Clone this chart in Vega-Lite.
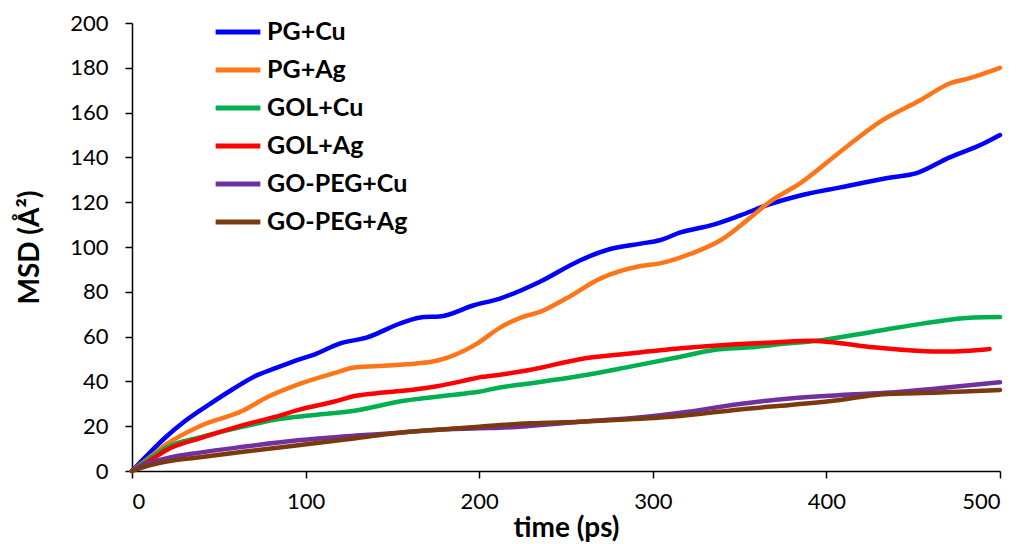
{
  "$schema": "https://vega.github.io/schema/vega-lite/v6.json",
  "width": 868,
  "height": 448,
  "autosize": {"type": "none"},
  "padding": {"left": 132, "top": 23, "right": 23, "bottom": 73},
  "background": "white",
  "config": {
    "view": {"stroke": null},
    "font": "Lato"
  },
  "datasets": {
    "msd": [
      {"s":"PG+Cu","t":0,"v":0},{"s":"PG+Cu","t":10,"v":8},{"s":"PG+Cu","t":20,"v":15.5},{"s":"PG+Cu","t":30,"v":22},{"s":"PG+Cu","t":45,"v":30},{"s":"PG+Cu","t":58,"v":36.5},{"s":"PG+Cu","t":70,"v":42},{"s":"PG+Cu","t":83,"v":46},{"s":"PG+Cu","t":95,"v":49.5},{"s":"PG+Cu","t":105,"v":52},{"s":"PG+Cu","t":120,"v":57},{"s":"PG+Cu","t":135,"v":59.5},{"s":"PG+Cu","t":155,"v":66},{"s":"PG+Cu","t":168,"v":68.8},{"s":"PG+Cu","t":177,"v":69},{"s":"PG+Cu","t":197,"v":74},{"s":"PG+Cu","t":212,"v":77},{"s":"PG+Cu","t":235,"v":84.5},{"s":"PG+Cu","t":258,"v":94},{"s":"PG+Cu","t":275,"v":99},{"s":"PG+Cu","t":293,"v":101.5},{"s":"PG+Cu","t":304,"v":103},{"s":"PG+Cu","t":316,"v":106.5},{"s":"PG+Cu","t":335,"v":110},{"s":"PG+Cu","t":350,"v":114},{"s":"PG+Cu","t":367,"v":119},{"s":"PG+Cu","t":385,"v":123},{"s":"PG+Cu","t":408,"v":126.6},{"s":"PG+Cu","t":437,"v":131},{"s":"PG+Cu","t":452,"v":133},{"s":"PG+Cu","t":471,"v":140},{"s":"PG+Cu","t":490,"v":146},{"s":"PG+Cu","t":500,"v":150},
      {"s":"PG+Ag","t":0,"v":0},{"s":"PG+Ag","t":10,"v":6},{"s":"PG+Ag","t":20,"v":12},{"s":"PG+Ag","t":39,"v":20},{"s":"PG+Ag","t":64,"v":27},{"s":"PG+Ag","t":78,"v":33},{"s":"PG+Ag","t":97,"v":39},{"s":"PG+Ag","t":116,"v":43.6},{"s":"PG+Ag","t":129,"v":46.3},{"s":"PG+Ag","t":145,"v":47},{"s":"PG+Ag","t":164,"v":48},{"s":"PG+Ag","t":174,"v":49},{"s":"PG+Ag","t":183,"v":51},{"s":"PG+Ag","t":199,"v":57},{"s":"PG+Ag","t":212,"v":64},{"s":"PG+Ag","t":224,"v":68.5},{"s":"PG+Ag","t":235,"v":71},{"s":"PG+Ag","t":250,"v":77},{"s":"PG+Ag","t":270,"v":86},{"s":"PG+Ag","t":293,"v":91.5},{"s":"PG+Ag","t":304,"v":92.7},{"s":"PG+Ag","t":322,"v":97},{"s":"PG+Ag","t":339,"v":103},{"s":"PG+Ag","t":356,"v":113},{"s":"PG+Ag","t":367,"v":120},{"s":"PG+Ag","t":385,"v":128.5},{"s":"PG+Ag","t":408,"v":142.5},{"s":"PG+Ag","t":431,"v":156},{"s":"PG+Ag","t":454,"v":165.5},{"s":"PG+Ag","t":471,"v":173},{"s":"PG+Ag","t":483,"v":175.5},{"s":"PG+Ag","t":500,"v":180},
      {"s":"GOL+Cu","t":0,"v":0},{"s":"GOL+Cu","t":10,"v":5.5},{"s":"GOL+Cu","t":20,"v":10.5},{"s":"GOL+Cu","t":39,"v":15},{"s":"GOL+Cu","t":64,"v":19.8},{"s":"GOL+Cu","t":83,"v":23},{"s":"GOL+Cu","t":105,"v":25},{"s":"GOL+Cu","t":129,"v":27},{"s":"GOL+Cu","t":154,"v":31},{"s":"GOL+Cu","t":174,"v":33},{"s":"GOL+Cu","t":193,"v":34.7},{"s":"GOL+Cu","t":200,"v":35.4},{"s":"GOL+Cu","t":212,"v":37.3},{"s":"GOL+Cu","t":229,"v":39.1},{"s":"GOL+Cu","t":258,"v":42.4},{"s":"GOL+Cu","t":287,"v":46.6},{"s":"GOL+Cu","t":316,"v":51},{"s":"GOL+Cu","t":335,"v":54},{"s":"GOL+Cu","t":356,"v":55.2},{"s":"GOL+Cu","t":369,"v":56.3},{"s":"GOL+Cu","t":398,"v":58.5},{"s":"GOL+Cu","t":427,"v":62.2},{"s":"GOL+Cu","t":456,"v":65.9},{"s":"GOL+Cu","t":485,"v":68.5},{"s":"GOL+Cu","t":500,"v":68.7},
      {"s":"GOL+Ag","t":0,"v":0},{"s":"GOL+Ag","t":10,"v":4.5},{"s":"GOL+Ag","t":20,"v":9.4},{"s":"GOL+Ag","t":39,"v":14.6},{"s":"GOL+Ag","t":64,"v":20.5},{"s":"GOL+Ag","t":83,"v":24.3},{"s":"GOL+Ag","t":97,"v":27.5},{"s":"GOL+Ag","t":116,"v":30.9},{"s":"GOL+Ag","t":129,"v":33.6},{"s":"GOL+Ag","t":145,"v":35},{"s":"GOL+Ag","t":164,"v":36.5},{"s":"GOL+Ag","t":174,"v":37.6},{"s":"GOL+Ag","t":193,"v":40.6},{"s":"GOL+Ag","t":200,"v":41.8},{"s":"GOL+Ag","t":212,"v":43},{"s":"GOL+Ag","t":229,"v":45.1},{"s":"GOL+Ag","t":258,"v":49.9},{"s":"GOL+Ag","t":287,"v":52.5},{"s":"GOL+Ag","t":316,"v":54.8},{"s":"GOL+Ag","t":350,"v":56.7},{"s":"GOL+Ag","t":369,"v":57.4},{"s":"GOL+Ag","t":392,"v":58.2},{"s":"GOL+Ag","t":408,"v":57},{"s":"GOL+Ag","t":427,"v":55.2},{"s":"GOL+Ag","t":452,"v":53.7},{"s":"GOL+Ag","t":469,"v":53.3},{"s":"GOL+Ag","t":494,"v":54.5},
      {"s":"GO-PEG+Cu","t":0,"v":0},{"s":"GO-PEG+Cu","t":10,"v":3.5},{"s":"GO-PEG+Cu","t":20,"v":5.7},{"s":"GO-PEG+Cu","t":39,"v":8.2},{"s":"GO-PEG+Cu","t":64,"v":10.8},{"s":"GO-PEG+Cu","t":97,"v":13.8},{"s":"GO-PEG+Cu","t":129,"v":15.8},{"s":"GO-PEG+Cu","t":154,"v":17.1},{"s":"GO-PEG+Cu","t":174,"v":18.3},{"s":"GO-PEG+Cu","t":200,"v":19.1},{"s":"GO-PEG+Cu","t":212,"v":19.3},{"s":"GO-PEG+Cu","t":258,"v":22},{"s":"GO-PEG+Cu","t":287,"v":23.5},{"s":"GO-PEG+Cu","t":316,"v":26},{"s":"GO-PEG+Cu","t":350,"v":29.9},{"s":"GO-PEG+Cu","t":379,"v":32.4},{"s":"GO-PEG+Cu","t":408,"v":33.9},{"s":"GO-PEG+Cu","t":437,"v":35},{"s":"GO-PEG+Cu","t":465,"v":36.9},{"s":"GO-PEG+Cu","t":500,"v":39.6},
      {"s":"GO-PEG+Ag","t":0,"v":0},{"s":"GO-PEG+Ag","t":10,"v":2.5},{"s":"GO-PEG+Ag","t":20,"v":4.2},{"s":"GO-PEG+Ag","t":39,"v":6.1},{"s":"GO-PEG+Ag","t":64,"v":8.6},{"s":"GO-PEG+Ag","t":97,"v":11.6},{"s":"GO-PEG+Ag","t":129,"v":14.6},{"s":"GO-PEG+Ag","t":154,"v":17.1},{"s":"GO-PEG+Ag","t":174,"v":18.3},{"s":"GO-PEG+Ag","t":200,"v":19.8},{"s":"GO-PEG+Ag","t":229,"v":21.3},{"s":"GO-PEG+Ag","t":258,"v":22},{"s":"GO-PEG+Ag","t":287,"v":23.1},{"s":"GO-PEG+Ag","t":316,"v":24.6},{"s":"GO-PEG+Ag","t":350,"v":27.5},{"s":"GO-PEG+Ag","t":379,"v":29.5},{"s":"GO-PEG+Ag","t":408,"v":31.7},{"s":"GO-PEG+Ag","t":431,"v":34.2},{"s":"GO-PEG+Ag","t":465,"v":35},{"s":"GO-PEG+Ag","t":500,"v":36.2}
    ]
  },
  "data": {"name": "msd"},
  "mark": {"type": "line", "strokeWidth": 4.5, "interpolate": "monotone", "strokeCap": "round"},
  "encoding": {
    "x": {
      "field": "t", "type": "quantitative",
      "scale": {"domain": [0, 500], "nice": false, "zero": true},
      "axis": {
        "title": "time (ps)", "values": [0, 100, 200, 300, 400, 500],
        "grid": false, "domainColor": "black", "domainWidth": 1.5,
        "tickColor": "black", "tickWidth": 1.5, "tickSize": 7,
        "labelFontSize": 22, "labelColor": "black", "labelPadding": 13, "labelFont": "Lato",
        "titleFontSize": 28, "titleFontWeight": "bold", "titleColor": "black", "titlePadding": 2, "titleFont": "Lato"
      }
    },
    "y": {
      "field": "v", "type": "quantitative",
      "scale": {"domain": [0, 200], "nice": false},
      "axis": {
        "title": "MSD (Å²)", "values": [0, 20, 40, 60, 80, 100, 120, 140, 160, 180, 200],
        "grid": false, "domainColor": "black", "domainWidth": 1.5,
        "tickColor": "black", "tickWidth": 1.5, "tickSize": 7,
        "labelFontSize": 22, "labelColor": "black", "labelPadding": 17, "labelFont": "Lato",
        "titleFontSize": 28, "titleFontWeight": "bold", "titleColor": "black", "titlePadding": 25, "titleFont": "Lato"
      }
    },
    "color": {
      "field": "s", "type": "nominal",
      "scale": {
        "domain": ["PG+Cu", "PG+Ag", "GOL+Cu", "GOL+Ag", "GO-PEG+Cu", "GO-PEG+Ag"],
        "range": ["#0000FF", "#FF7518", "#00B050", "#FF0000", "#7030A0", "#7B3A0E"]
      },
      "legend": {
        "title": null, "orient": "none", "legendX": 81, "legendY": -16,
        "symbolType": "stroke", "symbolSize": 2000, "symbolStrokeWidth": 5,
        "labelFontSize": 25, "labelFontWeight": "bold", "labelColor": "black", "labelFont": "Lato",
        "rowPadding": 0, "labelOffset": 4, "labelLimit": 300
      }
    },
    "order": {"field": "t", "type": "quantitative"}
  }
}
